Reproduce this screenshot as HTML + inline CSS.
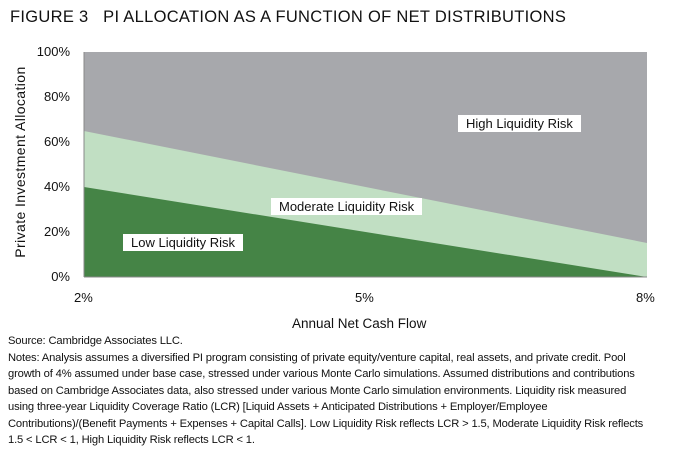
<!DOCTYPE html>
<html><head><meta charset="utf-8"><style>
body{margin:0;width:694px;height:469px;background:#fff;font-family:"Liberation Sans",sans-serif;color:#111;position:relative;overflow:hidden}
.t{position:absolute;white-space:nowrap}
.lab{position:absolute;background:#fff;font-size:13px;padding:1px 8px;white-space:nowrap}
.yt{position:absolute;font-size:13px;width:40px;text-align:right;left:30px}
.notes{position:absolute;left:8px;top:333px;font-size:11.2px;line-height:16.5px;white-space:nowrap;letter-spacing:-0.15px}
</style></head><body>
<div class="t" style="left:10px;top:8px;font-size:16.5px;letter-spacing:0.3px">FIGURE 3&nbsp;&nbsp;&nbsp;PI ALLOCATION AS A FUNCTION OF NET DISTRIBUTIONS</div>
<svg style="position:absolute;left:0;top:0" width="694" height="469">
<rect x="84" y="52" width="563" height="225" fill="#a7a8ac"/>
<polygon points="84,131 647,243 647,277 84,277" fill="#c1dfc3"/>
<polygon points="84,187 647,277 84,277" fill="#458446"/>
<line x1="84" y1="52" x2="84" y2="277" stroke="#888" stroke-width="1"/>
<line x1="84" y1="277" x2="647" y2="277" stroke="#888" stroke-width="1"/>
</svg>
<div class="yt" style="top:44px">100%</div>
<div class="yt" style="top:89px">80%</div>
<div class="yt" style="top:134px">60%</div>
<div class="yt" style="top:179px">40%</div>
<div class="yt" style="top:224px">20%</div>
<div class="yt" style="top:269px">0%</div>
<div class="t" style="left:-80px;top:154px;width:200px;text-align:center;font-size:14px;letter-spacing:0.4px;transform:rotate(-90deg)">Private Investment Allocation</div>
<div class="t" style="left:74px;top:290px;font-size:13px">2%</div>
<div class="t" style="left:355px;top:290px;font-size:13px">5%</div>
<div class="t" style="left:636px;top:290px;font-size:13px">8%</div>
<div class="t" style="left:292px;top:316px;font-size:13.5px">Annual Net Cash Flow</div>
<div class="lab" style="left:458px;top:115px">High Liquidity Risk</div>
<div class="lab" style="left:271px;top:198px">Moderate Liquidity Risk</div>
<div class="lab" style="left:123px;top:234px">Low Liquidity Risk</div>
<div class="notes">Source: Cambridge Associates LLC.<br>Notes: Analysis assumes a diversified PI program consisting of private equity/venture capital, real assets, and private credit. Pool<br>growth of 4% assumed under base case, stressed under various Monte Carlo simulations. Assumed distributions and contributions<br>based on Cambridge Associates data, also stressed under various Monte Carlo simulation environments. Liquidity risk measured<br>using three-year Liquidity Coverage Ratio (LCR) [Liquid Assets + Anticipated Distributions + Employer/Employee<br>Contributions)/(Benefit Payments + Expenses + Capital Calls]. Low Liquidity Risk reflects LCR &gt; 1.5, Moderate Liquidity Risk reflects<br>1.5 &lt; LCR &lt; 1, High Liquidity Risk reflects LCR &lt; 1.</div>
</body></html>
